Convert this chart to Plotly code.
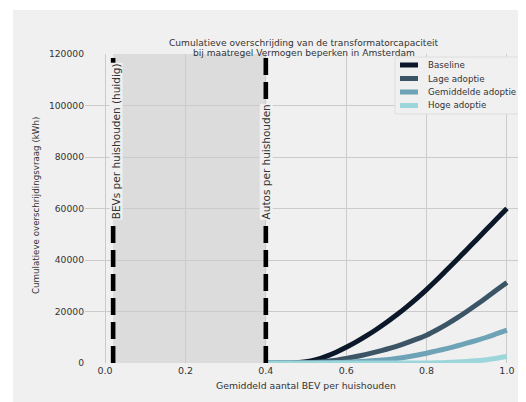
import plotly.graph_objects as go

# Data
x_vals = [0.40, 0.425, 0.45, 0.475, 0.50, 0.525, 0.55, 0.575, 0.60, 0.625, 0.65, 0.675, 0.70,
          0.725, 0.75, 0.775, 0.80, 0.825, 0.85, 0.875, 0.90, 0.925, 0.95, 0.975, 1.00]
baseline = [0, 0, 0, 80, 450, 1300, 2600, 4200, 6100, 8200, 10500, 13000, 15700,
            18600, 21700, 25000, 28500, 32200, 36100, 40000, 44000, 48000, 52000, 56000, 60000]
lage = [0, 0, 0, 30, 120, 330, 650, 1100, 1750, 2500, 3350, 4300, 5350,
        6500, 7800, 9250, 10800, 12800, 15000, 17400, 20000, 22700, 25500, 28400, 31300]
gemiddeld = [0, 0, 0, 0, 0, 40, 100, 180, 300, 480, 700, 980, 1300,
             1750, 2300, 3000, 3800, 4700, 5600, 6600, 7700, 8800, 10000, 11400, 12800]
hoge = [0, 0, 0, 0, 0, 0, 0, 0, 0, 0, 0, 0, 0,
        0, 0, 0, 0, 50, 200, 380, 600, 900, 1300, 1850, 2500]

series_names = ["Baseline", "Lage adoptie", "Gemiddelde adoptie", "Hoge adoptie"]
series_values = [baseline, lage, gemiddeld, hoge]
series_colors = ["#0a1829", "#3b5566", "#6ea2b6", "#9dd6da"]

bev_now = 0.02
autos_per_hh = 0.40

x_ticks = [0.0, 0.2, 0.4, 0.6, 0.8, 1.0]
x_tick_labels = ["0.0", "0.2", "0.4", "0.6", "0.8", "1.0"]
y_ticks = [0, 20000, 40000, 60000, 80000, 100000, 120000]
y_tick_labels = ["0", "20000", "40000", "60000", "80000", "100000", "120000"]

font_family = "DejaVu Sans"
text_col = "#333333"

OFF = 8  # page body margin
W, H = 526, 402
# target plot box on screen: x 85..527, y 54..363
SX0, SX1, SY0, SY1 = 85, 527, 54, 363
L = SX0 - OFF
T = SY0 - OFF
pw = SX1 - SX0
ph = SY1 - SY0
R = W - L - pw
B = H - T - ph


def px(sx):
    return (sx - SX0) / pw


def py(sy):
    return (SY1 - sy) / ph


fig = go.Figure()
for name, vals, col in zip(series_names, series_values, series_colors):
    fig.add_trace(go.Scatter(x=x_vals, y=vals, mode="lines", name=name, showlegend=False,
                             line=dict(color=col, width=5, shape="spline", smoothing=0.6),
                             hoverinfo="skip"))

# figure background (reference has a thin white border at top/left)
fig.add_shape(type="rect", xref="paper", yref="paper",
              x0=px(13), x1=px(W + 30), y0=py(H + 30), y1=py(10),
              fillcolor="#f0f0f0", line=dict(width=0), layer="below")
# shaded band
fig.add_shape(type="rect", xref="x", yref="paper", x0=bev_now, x1=autos_per_hh,
              y0=0, y1=1, fillcolor="#dcdcdc", line=dict(width=0), layer="below")
# dashed vertical lines
for xv in [bev_now, autos_per_hh]:
    fig.add_shape(type="line", xref="x", yref="paper", x0=xv, x1=xv, y0=0, y1=1,
                  line=dict(color="black", width=4.6, dash="17px,7px"))

fig.add_annotation(x=bev_now, y=55500, xref="x", yref="y", text="BEVs per huishouden (huidig)",
                   textangle=-90, showarrow=False, xanchor="center", yanchor="bottom",
                   xshift=3, bgcolor="#f0f0f0", borderpad=0,
                   font=dict(family=font_family, size=10.5, color=text_col))
fig.add_annotation(x=autos_per_hh, y=55500, xref="x", yref="y", text="Autos per huishouden",
                   textangle=-90, showarrow=False, xanchor="center", yanchor="bottom",
                   xshift=0, bgcolor="#f0f0f0", borderpad=0,
                   font=dict(family=font_family, size=10.5, color=text_col))

# axis titles
fig.add_annotation(x=px(306), y=py(385), xref="paper", yref="paper",
                   text="Gemiddeld aantal BEV per huishouden", showarrow=False,
                   xanchor="center", yanchor="middle",
                   font=dict(family=font_family, size=9.3, color=text_col))
fig.add_annotation(x=px(36), y=py(206), xref="paper", yref="paper",
                   text="Cumulatieve overschrijdingsvraag (kWh)", showarrow=False, textangle=-90,
                   xanchor="center", yanchor="middle",
                   font=dict(family=font_family, size=8.7, color=text_col))

# title (two lines)
fig.add_annotation(x=px(304), y=py(43), xref="paper", yref="paper",
                   text="Cumulatieve overschrijding van de transformatorcapaciteit",
                   showarrow=False, xanchor="center", yanchor="middle",
                   font=dict(family=font_family, size=9.1, color=text_col))
fig.add_annotation(x=px(304), y=py(53), xref="paper", yref="paper",
                   text="bij maatregel Vermogen beperken in Amsterdam",
                   showarrow=False, xanchor="center", yanchor="middle",
                   font=dict(family=font_family, size=9.1, color=text_col))

# legend (drawn manually to match compact spacing)
fig.add_shape(type="rect", xref="paper", yref="paper",
              x0=px(395), x1=px(522), y0=py(114), y1=py(57),
              fillcolor="#f0f0f0", line=dict(color="#dedede", width=1), layer="above")
legend_rows = [65, 78.5, 92, 105.5]
for name, col, sy in zip(series_names, series_colors, legend_rows):
    fig.add_shape(type="line", xref="paper", yref="paper",
                  x0=px(400), x1=px(418), y0=py(sy), y1=py(sy),
                  line=dict(color=col, width=5), layer="above")
    fig.add_annotation(x=px(426), y=py(sy), xref="paper", yref="paper", text=name,
                       showarrow=False, xanchor="left", yanchor="middle",
                       font=dict(family=font_family, size=8.7, color=text_col))

fig.update_layout(
    width=W, height=H,
    margin=dict(l=L, r=R, t=T, b=B, autoexpand=False),
    paper_bgcolor="white", plot_bgcolor="#f0f0f0",
    font=dict(family=font_family, size=9, color=text_col),
    xaxis=dict(range=[-0.05, 1.05], tickvals=x_ticks, ticktext=x_tick_labels,
               showgrid=True, gridcolor="#cbcbcb", gridwidth=1, zeroline=False,
               showline=False, ticks="", tickfont=dict(size=9.5), automargin=False),
    yaxis=dict(range=[0, 120000], tickvals=y_ticks, ticktext=y_tick_labels,
               showgrid=True, gridcolor="#cbcbcb", gridwidth=1, zeroline=False,
               showline=False, ticks="", tickfont=dict(size=9.2), automargin=False),
    showlegend=False,
)

fig.write_html("out.html")
